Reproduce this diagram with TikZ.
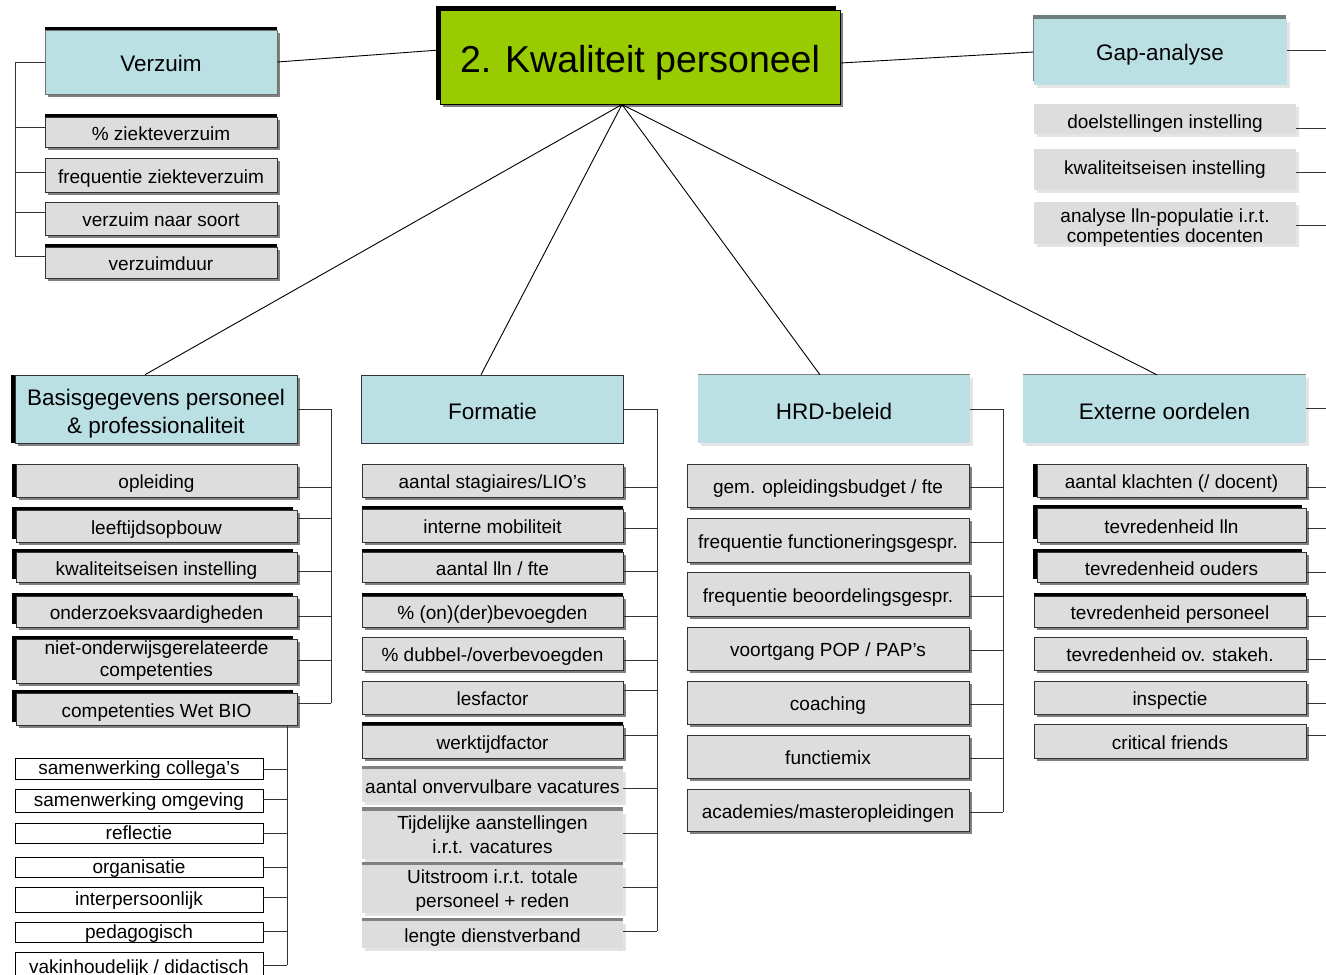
\documentclass[tikz,border=0pt]{standalone}
\usepackage{fontspec}
\setmainfont{Liberation Sans}
\usetikzlibrary{shadows}

\definecolor{hdrcyan}{HTML}{BBE0E3}
\definecolor{kpgreen}{HTML}{99CC00}
\definecolor{boxgray}{HTML}{DDDDDD}
\definecolor{edge}{HTML}{333333}
\definecolor{shade}{HTML}{808080}
\definecolor{paleshade}{HTML}{E4E4E4}
\definecolor{slate}{HTML}{6E7F80}

% two centred lines, lowered by #1 without changing the box size
\newcommand{\pairlines}[3]{\raisebox{-#1}[\height][\depth]{\begin{tabular}{@{}c@{}}#2\\#3\end{tabular}}}

\tikzset{
  base/.style={rectangle, inner sep=0pt, align=center, text=black},
  sh/.style={general shadow={shadow xshift=3pt, shadow yshift=-3pt, fill=shade}},
  palesh/.style={general shadow={shadow xshift=3pt, shadow yshift=-3pt, fill=paleshade}},
  topbar/.style={general shadow={shadow xshift=0pt, shadow yshift=3.5pt, fill=black}},
  leftbar/.style={general shadow={shadow xshift=-4pt, shadow yshift=0pt, fill=black}},
  cornerbar/.style={general shadow={shadow xshift=-4pt, shadow yshift=3.5pt, fill=black}},
  graybar/.style={general shadow={shadow xshift=0pt, shadow yshift=3.5pt, fill=shade}},
  thinbar/.style={general shadow={shadow xshift=0pt, shadow yshift=1pt, fill=shade}},
  % baseline placed half of "text height" below the centre
  drop/.style={text height=#1, text depth=0pt},
  itembase/.style={base, fill=boxgray, draw=edge, line width=0.8pt},
  flatbase/.style={base, fill=boxgray},
  item/.style={itembase, font=\fontsize{19}{22}\selectfont, drop=16pt},
  flat/.style={flatbase, font=\fontsize{19}{22}\selectfont, drop=16pt},
  wbox/.style={base, fill=white, draw=black, line width=0.8pt, font=\fontsize{19}{22}\selectfont, drop=12pt},
  hdrbase/.style={base, fill=hdrcyan},
  hdr/.style={hdrbase, font=\fontsize{22.5}{27}\selectfont, drop=21pt},
  link/.style={draw=edge, line width=0.9pt},
  spoke/.style={draw=black, line width=0.9pt},
}

\begin{document}
\begin{tikzpicture}[x=1pt, y=-1pt]
\useasboundingbox[fill=white] (0,0) rectangle (1326,975);

% ---------- bus lines (x positions) ----------
\coordinate (vbus) at (15,0);
\coordinate (bbus) at (331,0);
\coordinate (wbus) at (287,0);
\coordinate (fbus) at (657,0);
\coordinate (hbus) at (1003,0);
\coordinate (rim)  at (1326,0);

% ---------- central node ----------
\node[base, fill=kpgreen, draw=black, line width=1pt,
      general shadow={shadow xshift=3pt, shadow yshift=-3pt, fill=shade},
      general shadow={shadow xshift=-4pt, shadow yshift=4pt, fill=black},
      minimum width=400pt, minimum height=94pt,
      font=\fontsize{37.5}{40}\selectfont, drop=30pt] (kp) at (640,57) {2. Kwaliteit personeel};

% ---------- Verzuim ----------
\node[hdr, drop=18pt, draw=edge!70, line width=0.6pt, sh, topbar, minimum width=232pt, minimum height=64pt] (vz) at (161,62) {Verzuim};
\node[item, sh, topbar, minimum width=232pt, minimum height=30pt] (v1) at (161,132) {\% ziekteverzuim};
\node[item, sh, minimum width=232pt, minimum height=34pt] (v2) at (161,175) {frequentie ziekteverzuim};
\node[item, sh, minimum width=232pt, minimum height=33pt] (v3) at (161,218.5) {verzuim naar soort};
\node[item, sh, topbar, minimum width=232pt, minimum height=31pt] (v4) at (161,262.5) {verzuimduur};

% ---------- Gap-analyse ----------
\node[hdr, drop=17pt, palesh, general shadow={shadow xshift=-1pt, shadow yshift=4pt, fill=slate},
      minimum width=253pt, minimum height=66pt] (gap) at (1160,52) {Gap-analyse};
\node[flat, drop=18pt, palesh, minimum width=262pt, minimum height=30pt] (g1) at (1165,119) {doelstellingen instelling};
\node[flat, drop=10pt, palesh, minimum width=262pt, minimum height=41pt] (g2) at (1165,169.5) {kwaliteitseisen instelling};
\node[flatbase, palesh, minimum width=262pt, minimum height=42pt, font=\fontsize{19}{20}\selectfont] (g3) at (1165,223)
  {\pairlines{5pt}{analyse lln-populatie i.r.t.}{competenties docenten}};

% ---------- Basisgegevens ----------
\node[hdrbase, font=\fontsize{22.5}{28}\selectfont, draw=edge, line width=0.6pt, sh, leftbar, minimum width=282pt, minimum height=68pt] (bh) at (156,409)
  {\pairlines{4.5pt}{Basisgegevens personeel}{\& professionaliteit}};
\node[item, sh, leftbar, minimum width=281pt, minimum height=33pt] (b1) at (156.5,480.5) {opleiding};
\node[item, sh, cornerbar, minimum width=281pt, minimum height=32pt] (b2) at (156.5,526) {leeftijdsopbouw};
\node[item, sh, cornerbar, minimum width=281pt, minimum height=30pt] (b3) at (156.5,567) {kwaliteitseisen instelling};
\node[item, sh, cornerbar, minimum width=281pt, minimum height=31pt] (b4) at (156.5,611.5) {onderzoeksvaardigheden};
\node[itembase, font=\fontsize{19}{22}\selectfont, sh, cornerbar, minimum width=281pt, minimum height=42pt] (b5) at (156.5,661)
  {\pairlines{0pt}{niet-onderwijsgerelateerde}{competenties}};
\node[item, sh, cornerbar, minimum width=281pt, minimum height=32pt] (b6) at (156.5,709) {competenties Wet BIO};

\node[wbox, minimum width=248pt, minimum height=21pt] (w1) at (139,768.5) {samenwerking collega’s};
\node[wbox, minimum width=248pt, minimum height=23pt] (w2) at (139,800.5) {samenwerking omgeving};
\node[wbox, minimum width=248pt, minimum height=20pt] (w3) at (139,833) {reflectie};
\node[wbox, minimum width=248pt, minimum height=20pt] (w4) at (139,867) {organisatie};
\node[wbox, minimum width=248pt, minimum height=25pt] (w5) at (139,899.5) {interpersoonlijk};
\node[wbox, minimum width=248pt, minimum height=20pt] (w6) at (139,932) {pedagogisch};
\node[wbox, minimum width=248pt, minimum height=30pt] (w7) at (139,967) {vakinhoudelijk / didactisch};

% ---------- Formatie ----------
\node[hdr, draw=edge, line width=0.6pt, minimum width=262pt, minimum height=68pt] (fh) at (492.5,409) {Formatie};
\node[item, sh, minimum width=261pt, minimum height=33pt] (f1) at (492.5,480.5) {aantal stagiaires/LIO’s};
\node[item, sh, topbar, minimum width=261pt, minimum height=33pt] (f2) at (492.5,525.5) {interne mobiliteit};
\node[item, sh, topbar, minimum width=261pt, minimum height=30pt] (f3) at (492.5,567) {aantal lln / fte};
\node[item, sh, topbar, minimum width=261pt, minimum height=31pt] (f4) at (492.5,611.5) {\% (on)(der)bevoegden};
\node[item, sh, minimum width=261pt, minimum height=33pt] (f5) at (492.5,653.5) {\% dubbel-/overbevoegden};
\node[item, sh, minimum width=261pt, minimum height=33pt] (f6) at (492.5,697.5) {lesfactor};
\node[item, sh, topbar, minimum width=261pt, minimum height=33pt] (f7) at (492.5,741.5) {werktijdfactor};
\node[flat, palesh, graybar, minimum width=261pt, minimum height=33pt] (f8) at (492.5,785.5) {aantal onvervulbare vacatures};
\node[flatbase, font=\fontsize{19}{24}\selectfont, palesh, graybar, minimum width=261pt, minimum height=45pt] (f9) at (492.5,834.5)
  {\pairlines{2.5pt}{Tijdelijke aanstellingen}{i.r.t. vacatures}};
\node[flatbase, font=\fontsize{19}{24}\selectfont, palesh, graybar, minimum width=261pt, minimum height=46pt] (f10) at (492.5,889)
  {\pairlines{1.5pt}{Uitstroom i.r.t. totale}{personeel + reden}};
\node[flat, palesh, graybar, minimum width=261pt, minimum height=27pt] (f11) at (492.5,934.5) {lengte dienstverband};

% ---------- HRD-beleid ----------
\node[hdr, palesh, thinbar, minimum width=272pt, minimum height=68pt] (hh) at (834,409) {HRD-beleid};
\node[item, sh, minimum width=282pt, minimum height=43pt] (h1) at (828,485.5) {gem. opleidingsbudget / fte};
\node[item, sh, minimum width=282pt, minimum height=44pt] (h2) at (828,540) {frequentie functioneringsgespr.};
\node[item, sh, minimum width=282pt, minimum height=44pt] (h3) at (828,594) {frequentie beoordelingsgespr.};
\node[item, sh, minimum width=282pt, minimum height=43pt] (h4) at (828,648.5) {voortgang POP / PAP’s};
\node[item, sh, minimum width=282pt, minimum height=43pt] (h5) at (828,702.5) {coaching};
\node[item, sh, minimum width=282pt, minimum height=43pt] (h6) at (828,756.5) {functiemix};
\node[item, sh, minimum width=282pt, minimum height=42pt] (h7) at (828,810) {academies/masteropleidingen};

% ---------- Externe oordelen ----------
\node[hdr, palesh, thinbar, minimum width=283pt, minimum height=68pt] (eh) at (1164.5,409) {Externe oordelen};
\node[item, sh, leftbar, minimum width=269pt, minimum height=33pt] (e1) at (1171.5,480.5) {aantal klachten (/ docent)};
\node[item, sh, cornerbar, minimum width=269pt, minimum height=34pt] (e2) at (1171.5,525) {tevredenheid lln};
\node[item, sh, cornerbar, minimum width=269pt, minimum height=30pt] (e3) at (1171.5,567) {tevredenheid ouders};
\node[item, sh, topbar, minimum width=272pt, minimum height=31pt] (e4) at (1170,611.5) {tevredenheid personeel};
\node[item, sh, minimum width=272pt, minimum height=33pt] (e5) at (1170,653.5) {tevredenheid ov. stakeh.};
\node[item, sh, minimum width=272pt, minimum height=33pt] (e6) at (1170,697.5) {inspectie};
\node[item, sh, minimum width=272pt, minimum height=34pt] (e7) at (1170,741) {critical friends};

% ---------- connectors from the central node ----------
\draw[spoke] (vz.east) -- ([yshift=7pt]kp.west);
\draw[spoke] ([yshift=-6pt]kp.east) -- (gap.west);
\draw[spoke] ([xshift=-18pt]kp.south) -- ([xshift=-11pt]bh.north);
\draw[spoke] ([xshift=-18pt]kp.south) -- ([xshift=-11.5pt]fh.north);
\draw[spoke] ([xshift=-18pt]kp.south) -- ([xshift=-14pt]hh.north);
\draw[spoke] ([xshift=-18pt]kp.south) -- ([xshift=-7.5pt]eh.north);

% ---------- Verzuim bracket ----------
\draw[link] (vz.west) -- (vbus |- vz.west) -- (vbus |- 0,256);
\foreach \n/\y in {v1/127, v2/172, v3/212, v4/256}
  \draw[link] (\n.west |- 0,\y) -- (vbus |- 0,\y);

% ---------- Gap-analyse leads ----------
\draw[link] (gap.east |- 0,50) -- (rim |- 0,50);
\foreach \n/\y in {g1/128, g2/172, g3/225}
  \draw[link] (\n.east |- 0,\y) -- (rim |- 0,\y);

% ---------- Basisgegevens bracket ----------
\draw[link] (bh.east) -- (bbus |- bh.east) -- (bbus |- 0,703);
\foreach \n/\y in {b1/487, b2/518, b3/571, b4/616, b5/660, b6/703}
  \draw[link] (\n.east |- 0,\y) -- (bbus |- 0,\y);

% ---------- competence bracket ----------
\draw[link] (wbus |- b6.south) -- (wbus |- 0,965);
\foreach \n/\y in {w1/769, w2/799, w3/833, w4/867, w5/897, w6/931, w7/965}
  \draw[link] (\n.east |- 0,\y) -- (wbus |- 0,\y);

% ---------- Formatie bracket ----------
\draw[link] (fh.east) -- (fbus |- fh.east) -- (fbus |- 0,931);
\foreach \n/\y in {f1/487, f2/528, f3/571, f4/616, f5/660, f6/690, f7/735, f8/788, f9/833, f10/887, f11/931}
  \draw[link] (\n.east |- 0,\y) -- (fbus |- 0,\y);

% ---------- HRD-beleid bracket ----------
\draw[link] (hh.east) -- (hbus |- hh.east) -- (hbus |- 0,812);
\foreach \n/\y in {h1/487, h2/542, h3/596, h4/650, h5/704, h6/758, h7/812}
  \draw[link] (\n.east |- 0,\y) -- (hbus |- 0,\y);

% ---------- Externe oordelen leads ----------
\draw[link] (eh.east |- 0,408) -- (rim |- 0,408);
\foreach \n/\y in {e1/487, e2/528, e3/572, e4/616, e5/659, e6/703, e7/735}
  \draw[link] (\n.east |- 0,\y) -- (rim |- 0,\y);

\end{tikzpicture}
\end{document}
